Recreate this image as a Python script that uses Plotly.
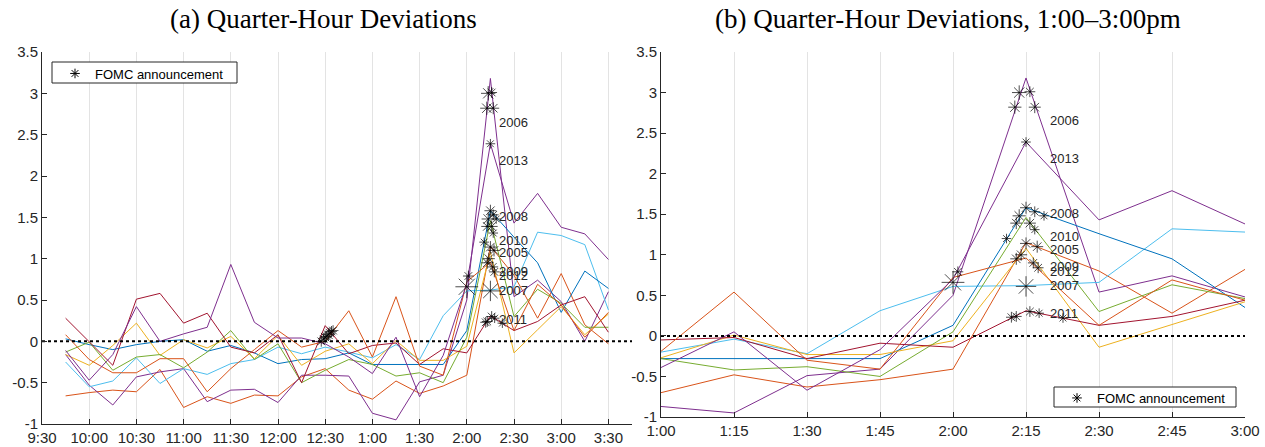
import plotly.graph_objects as go

# ---------------- data ----------------
time_labels = ["9:45", "10:00", "10:15", "10:30", "10:45", "11:00", "11:15", "11:30",
               "11:45", "12:00", "12:15", "12:30", "12:45", "1:00", "1:15", "1:30",
               "1:45", "2:00", "2:15", "2:30", "2:45", "3:00", "3:15", "3:30"]

s2005 = [-0.66, -0.62, -0.59, -0.61, -0.34, -0.80, -0.67, -0.75, -0.65, -0.66, -0.43, -0.33,
         -0.59, -0.70, -0.48, -0.63, -0.54, -0.41, 1.15, 0.80, 0.28, 0.82, 0.20, -0.03]
s2006 = [-0.16, -0.53, -0.77, -0.43, -0.37, -0.33, -0.73, -0.59, -0.58, -0.74, -0.41, -0.41,
         -0.42, -0.87, -0.95, -0.49, -0.41, 0.50, 3.18, 0.54, 0.74, 0.48, 0.00, 0.60]
s2007 = [-0.25, -0.55, -0.48, -0.20, -0.51, -0.33, -0.40, -0.27, -0.22, -0.07, -0.15, -0.07,
         -0.13, -0.20, -0.04, -0.22, 0.31, 0.61, 0.62, 0.66, 1.32, 1.28, 1.17, 0.38]
s2008 = [0.03, -0.04, -0.10, -0.04, 0.00, 0.02, -0.12, -0.05, -0.14, -0.27, -0.22, -0.21,
         -0.14, -0.28, -0.28, -0.28, -0.28, 0.13, 1.58, 1.26, 0.95, 0.35, 0.85, 0.64]
s2009 = [-0.16, -0.29, -0.05, 0.22, -0.17, 0.02, -0.08, 0.06, -0.21, 0.07, -0.29, -0.12,
         -0.03, -0.27, 0.01, -0.23, -0.23, -0.06, 1.08, -0.14, 0.14, 0.42, 0.08, 0.33]
s2010 = [-0.13, -0.01, -0.35, -0.19, -0.16, -0.32, -0.13, 0.13, -0.22, -0.03, -0.50, -0.35,
         -0.22, -0.28, -0.42, -0.38, -0.50, 0.05, 1.46, 0.30, 0.63, 0.46, 0.17, 0.17]
s2011 = [0.28, 0.00, -0.29, 0.51, 0.58, 0.22, 0.34, -0.07, -0.14, 0.08, -0.50, 0.19,
         -0.15, -0.05, -0.02, -0.28, -0.09, -0.14, 0.31, 0.13, 0.24, 0.44, 0.54, 0.11]
s2012 = [0.08, -0.22, -0.38, -0.38, -0.21, -0.21, -0.61, -0.33, -0.10, 0.13, -0.07, 0.00,
         0.37, -0.19, 0.54, -0.30, -0.41, 0.72, 0.96, 0.13, 0.69, 0.44, 0.05, 0.35]
s2013 = [-0.11, -0.47, -0.16, 0.42, 0.00, 0.09, 0.17, 0.93, 0.23, 0.04, 0.04, -0.03,
         -0.19, -0.39, 0.05, -0.67, -0.17, 0.70, 2.39, 1.43, 1.79, 1.38, 1.30, 0.99]

series = [("2005", s2005, "#D95319"), ("2006", s2006, "#7E2F8E"), ("2007", s2007, "#4DBEEE"),
          ("2008", s2008, "#0072BD"), ("2009", s2009, "#EDB120"), ("2010", s2010, "#77AC30"),
          ("2011", s2011, "#A2142F"), ("2012", s2012, "#D95319"), ("2013", s2013, "#7E2F8E")]

# FOMC announcement markers: clock time, deviation, marker size
star_times = ["12:27.5", "12:29", "12:30", "12:31", "12:32", "12:33", "12:34", "12:35",
              "2:00", "2:01", "2:11", "2:12.7", "2:13.6", "2:15.8", "2:16.8", "2:15",
              "2:15", "2:16.8", "2:18.7", "2:13.6", "2:13", "2:15.8", "2:16.8", "2:15",
              "2:17.3", "2:14", "2:13", "2:16.5", "2:17.5", "2:15", "2:12", "2:13",
              "2:15.8", "2:17.7", "2:22.6"]
star_vals = [0.00, 0.03, 0.05, 0.06, 0.08, 0.10, 0.12, 0.13,
             0.66, 0.79, 1.20, 2.82, 3.00, 3.01, 2.82, 2.39,
             1.58, 1.53, 1.48, 1.48, 1.39, 1.39, 1.31, 1.14,
             1.10, 1.00, 0.95, 0.90, 0.84, 0.61, 0.23, 0.24,
             0.30, 0.28, 0.22]
star_sizes = [9, 9, 10, 9, 10, 9, 9, 9,
              19, 9, 8, 11, 12, 9, 10, 8,
              10, 9, 8, 11, 10, 10, 8, 10,
              10, 10, 10, 9, 9, 17, 9, 9,
              9, 8, 8]

label_years = ["2006", "2013", "2008", "2010", "2005", "2009", "2012", "2007", "2011"]
label_vals = [2.65, 2.19, 1.51, 1.22, 1.07, 0.85, 0.80, 0.62, 0.27]
label_time = "2:19.5"

left_ticks = ["9:30", "10:00", "10:30", "11:00", "11:30", "12:00", "12:30", "1:00",
              "1:30", "2:00", "2:30", "3:00", "3:30"]
right_ticks = ["1:00", "1:15", "1:30", "1:45", "2:00", "2:15", "2:30", "2:45", "3:00"]
y_ticks = [3.5, 3, 2.5, 2, 1.5, 1, 0.5, 0, -0.5, -1]
y_ticktext = ["3.5", "3", "2.5", "2", "1.5", "1", "0.5", "0", "-0.5", "-1"]


def to_min(s):
    h, m = s.split(":")
    h = int(h)
    if h < 9:
        h += 12
    return h * 60 + float(m)


t = [to_min(s) for s in time_labels]
st = [to_min(s) for s in star_times]
lt = to_min(label_time)

W, H = 1265, 447
AX = "#262626"


def px(x):
    return x / W


def py(y):
    return 1 - y / H


fig = go.Figure()

panels = [("x", "y", 570, 945), ("x2", "y2", 780, 900)]
for xa, ya, x0, x1 in panels:
    for name, vals, col in series:
        fig.add_trace(go.Scatter(x=t, y=vals, mode="lines", xaxis=xa, yaxis=ya,
                                 line=dict(color=col, width=1), showlegend=False,
                                 hoverinfo="skip"))
    fig.add_trace(go.Scatter(x=[x0, x1], y=[0, 0], mode="lines", xaxis=xa, yaxis=ya,
                             line=dict(color="black", width=2, dash="3px,3px"),
                             showlegend=False, hoverinfo="skip"))
    fig.add_trace(go.Scatter(x=st, y=star_vals, mode="markers", xaxis=xa, yaxis=ya,
                             marker=dict(symbol="asterisk-open", size=star_sizes, color="black",
                                         line=dict(color="black", width=1)),
                             showlegend=False, hoverinfo="skip"))
    for yr, v in zip(label_years, label_vals):
        fig.add_annotation(x=lt, y=v, xref=xa, yref=ya, text=yr, showarrow=False,
                           xanchor="left", yanchor="middle",
                           font=dict(family="Liberation Sans", size=13, color=AX))

# legend entries (boxes drawn as shapes)
for lg, xa, ya in [("legend", "x", "y"), ("legend2", "x2", "y2")]:
    fig.add_trace(go.Scatter(x=[None], y=[None], mode="markers", xaxis=xa, yaxis=ya,
                             name="FOMC announcement", legend=lg, showlegend=True,
                             marker=dict(symbol="asterisk-open", size=8, color="black",
                                         line=dict(color="black", width=1))))

for (x0, y0, x1, y1) in [(52, 62, 237, 83), (1054, 387, 1236, 407)]:
    fig.add_shape(type="rect", xref="paper", yref="paper",
                  x0=px(x0), x1=px(x1), y0=py(y1), y1=py(y0),
                  line=dict(color=AX, width=1), fillcolor="white", layer="above")

axis_common = dict(showline=True, linecolor=AX, linewidth=1, ticks="inside", ticklen=5,
                   tickcolor=AX, zeroline=False, automargin=False, fixedrange=True,
                   tickfont=dict(family="Liberation Sans", size=15, color=AX))

leg_common = dict(xanchor="left", yanchor="top", borderwidth=0,
                  bgcolor="rgba(0,0,0,0)",
                  font=dict(family="Liberation Sans", size=13, color="black"),
                  tracegroupgap=0)

fig.update_layout(
    width=W, height=H, margin=dict(l=0, r=0, t=0, b=0, pad=0, autoexpand=False),
    paper_bgcolor="white", plot_bgcolor="white", hovermode=False,
    xaxis=dict(domain=[px(42), px(632)], range=[570, 945], anchor="y",
               tickvals=[to_min(s) for s in left_ticks], ticktext=left_ticks,
               showgrid=True, gridcolor="#e3e3e3", gridwidth=1, **axis_common),
    yaxis=dict(domain=[py(424), py(52)], range=[-1, 3.5], anchor="x",
               tickvals=y_ticks, ticktext=y_ticktext, showgrid=False, **axis_common),
    xaxis2=dict(domain=[px(661), px(1245)], range=[780, 900], anchor="y2",
                tickvals=[to_min(s) for s in right_ticks], ticktext=right_ticks,
                showgrid=True, gridcolor="#e3e3e3", gridwidth=1, **axis_common),
    yaxis2=dict(domain=[py(417), py(52)], range=[-1, 3.5], anchor="x2",
                tickvals=y_ticks, ticktext=y_ticktext, showgrid=False, **axis_common),
    legend=dict(x=px(55), y=py(58.5), **leg_common),
    legend2=dict(x=px(1057), y=py(383), **leg_common),
    showlegend=True,
)

fig.add_annotation(x=px(323), y=py(19), xref="paper", yref="paper", showarrow=False,
                   text="(a) Quarter-Hour Deviations", xanchor="center", yanchor="middle",
                   font=dict(family="Liberation Serif", size=27, color="black"))
fig.add_annotation(x=px(948), y=py(19), xref="paper", yref="paper", showarrow=False,
                   text="(b) Quarter-Hour Deviations, 1:00\u20133:00pm", xanchor="center",
                   yanchor="middle",
                   font=dict(family="Liberation Serif", size=27, color="black"))

fig.write_html("out.html", config={"displayModeBar": False},
               post_script="document.body.style.margin='0px';")
